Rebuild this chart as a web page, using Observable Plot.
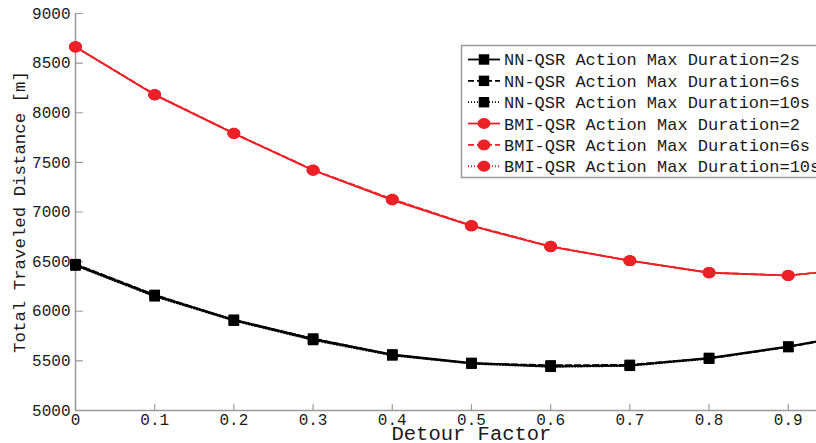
<!DOCTYPE html>
<html>
<head>
<meta charset="utf-8">
<script src="https://cdn.jsdelivr.net/npm/d3@7"></script>
<script src="https://cdn.jsdelivr.net/npm/@observablehq/plot@0.6"></script>
<style>
  html, body { margin: 0; padding: 0; background: #fff; overflow: hidden; }
  #chart svg { display: block; overflow: hidden !important; }
</style>
</head>
<body>
<div id="chart"></div>
<script>
// Detour factor values (x) and total traveled distance [m] for each planner setting
const detour = [0, 0.1, 0.2, 0.3, 0.4, 0.5, 0.6, 0.7, 0.8, 0.9, 1.0];
const nn2   = [6470, 6160, 5915, 5720, 5565, 5480, 5445, 5455, 5530, 5645, 5790];
const nn6   = [6475, 6165, 5910, 5725, 5560, 5475, 5455, 5460, 5525, 5640, 5785];
const nn10  = [6460, 6150, 5905, 5710, 5555, 5472, 5440, 5450, 5522, 5640, 5790];
const bmi2  = [8665, 8180, 7790, 7420, 7120, 6860, 6650, 6510, 6390, 6360, 6440];
const bmi6  = [8665, 8185, 7795, 7425, 7130, 6865, 6655, 6510, 6390, 6360, 6440];
const bmi10 = [8660, 8180, 7790, 7420, 7125, 6860, 6650, 6510, 6385, 6360, 6440];

const seriesNames = [
  "NN-QSR Action Max Duration=2s",
  "NN-QSR Action Max Duration=6s",
  "NN-QSR Action Max Duration=10s",
  "BMI-QSR Action Max Duration=2",
  "BMI-QSR Action Max Duration=6s",
  "BMI-QSR Action Max Duration=10s"
];
const seriesValues = [nn2, nn6, nn10, bmi2, bmi6, bmi10];

const xTicks = [0, 0.1, 0.2, 0.3, 0.4, 0.5, 0.6, 0.7, 0.8, 0.9];
const yTicks = [5000, 5500, 6000, 6500, 7000, 7500, 8000, 8500, 9000];

const RED = "#ec2127";
const BLACK = "#000";
const AXIS = "#9a9a9a";
const TEXT = "#1a1a1a";
const FONT = "'Liberation Mono', 'DejaVu Sans Mono', monospace";

// slightly wide ellipse marker for the BMI-QSR series
const ellipse = {
  draw(ctx, size) {
    const r = Math.sqrt(size / Math.PI), rx = r * 1.08, ry = r * 0.92, k = 0.5523;
    ctx.moveTo(rx, 0);
    ctx.bezierCurveTo(rx, ry * k, rx * k, ry, 0, ry);
    ctx.bezierCurveTo(-rx * k, ry, -rx, ry * k, -rx, 0);
    ctx.bezierCurveTo(-rx, -ry * k, -rx * k, -ry, 0, -ry);
    ctx.bezierCurveTo(rx * k, -ry, rx, -ry * k, rx, 0);
    ctx.closePath();
  }
};
// short tick segment used for inward axis ticks
const tickShape = { draw(ctx, l) { ctx.moveTo(0, 0); ctx.lineTo(0, -l); } };

const styles = [
  { color: BLACK, dash: null,  symbol: "square" },
  { color: BLACK, dash: "6,3", symbol: "square" },
  { color: BLACK, dash: "1,2", symbol: "square" },
  { color: RED,   dash: null,  symbol: ellipse },
  { color: RED,   dash: "6,3", symbol: ellipse },
  { color: RED,   dash: "1,2", symbol: ellipse }
];

const series = seriesNames.map((name, i) => ({
  name, ...styles[i],
  rows: detour.map((x, j) => ({ x, y: seriesValues[i][j] }))
}));

// legend box drawn inside the plot area, upper right
function legend() {
  const g = d3.create("svg:g").attr("font-family", FONT).attr("font-size", 17)
    .attr("text-anchor", "start");
  const left = 461.5, top = 45.5, rowH = 21.35, firstRow = 59.5;
  g.append("rect").attr("x", left).attr("y", top).attr("width", 380).attr("height", 132)
    .attr("fill", "#fff").attr("stroke", AXIS).attr("stroke-width", 1.5);
  series.forEach((s, i) => {
    const cy = firstRow + i * rowH;
    g.append("line").attr("x1", 468).attr("x2", 500).attr("y1", cy).attr("y2", cy)
      .attr("stroke", s.color).attr("stroke-width", 1.8)
      .attr("stroke-dasharray", s.dash);
    const sym = s.symbol === "square" ? d3.symbolSquare : s.symbol;
    g.append("path").attr("transform", `translate(484,${cy})`)
      .attr("d", d3.symbol(sym, Math.PI * 5.9 * 5.9)()).attr("fill", s.color);
    g.append("text").attr("x", 504).attr("y", cy).attr("dy", "0.35em")
      .attr("text-anchor", "start").attr("fill", TEXT).text(s.name);
  });
  return g.node();
}

const marks = [
  Plot.ruleY([5000], { stroke: AXIS, strokeWidth: 1.5 }),
  Plot.ruleX([0], { stroke: AXIS, strokeWidth: 1.5 }),
  Plot.vector(yTicks, { y: d => d, frameAnchor: "left", length: 7, rotate: 90, anchor: "start",
    shape: tickShape, stroke: AXIS, strokeWidth: 1.2 }),
  Plot.vector(xTicks, { x: d => d, frameAnchor: "bottom", length: 6, rotate: 0, anchor: "start",
    shape: tickShape, stroke: AXIS, strokeWidth: 1.2 }),
  Plot.axisY({ ticks: yTicks, tickSize: 0, tickPadding: 5, tickFormat: d => String(d),
    fontSize: 16, label: null }),
  Plot.axisX({ ticks: xTicks, tickSize: 0, tickPadding: 3, tickFormat: d => String(d),
    fontSize: 16, label: null }),
  Plot.text(["Detour Factor"], { x: [0.5], text: d => d, frameAnchor: "bottom", dy: 23,
    lineAnchor: "middle", textAnchor: "middle", fontSize: 20.5, fill: TEXT }),
  Plot.text(["Total Traveled Distance [m]"], { text: d => d, frameAnchor: "left", dx: -56,
    textAnchor: "middle", lineAnchor: "middle", rotate: -90, fontSize: 17.4, fill: TEXT })
];

for (const s of series) {
  marks.push(Plot.line(s.rows, { x: "x", y: "y", stroke: s.color, strokeWidth: s.color === RED ? 1.7 : 1.9,
    strokeDasharray: s.dash }));
}
for (const s of series) {
  marks.push(Plot.dot(s.rows, { x: "x", y: "y", symbol: () => s.symbol, r: 5.9, fill: s.color, stroke: "none" }));
}
marks.push(legend);

const chart = Plot.plot({
  width: 816,
  height: 443,
  marginLeft: 75,
  marginRight: 0,
  marginTop: 13,
  marginBottom: 33,
  style: { fontFamily: FONT, color: TEXT, background: "#fff" },
  x: { domain: [0, 0.9357], axis: null },
  y: { domain: [5000, 9000], axis: null },
  symbol: { type: "identity" },
  marks
});
document.getElementById("chart").appendChild(chart);
</script>
</body>
</html>
